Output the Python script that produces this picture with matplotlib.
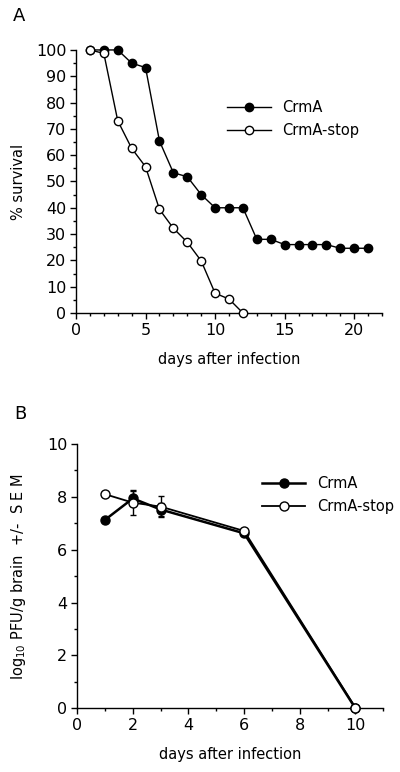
import numpy as np
import matplotlib.pyplot as plt
from matplotlib.ticker import MultipleLocator

# panel A: survival
daysA = [1, 2, 3, 4, 5, 6, 7, 8, 9, 10, 11, 12, 13, 14, 15, 16, 17, 18, 19, 20, 21]
crmaA = [100, 100, 100, 95, 93.3, 65.4, 53.3, 51.8, 45, 40, 40, 40, 28, 28, 26, 26, 26, 26, 24.6, 24.6, 24.6]
daysA_stop = [1, 2, 3, 4, 5, 6, 7, 8, 9, 10, 11, 12]
stopA = [100, 98.7, 73.1, 62.6, 55.6, 39.4, 32.2, 26.9, 19.8, 7.5, 5.3, 0]

# panel B: virus titre
daysB = [1, 2, 3, 6, 10]
crmaB = [7.13, 7.94, 7.52, 6.62, 0]
crmaB_err = [0, 0.3, 0.25, 0, 0]
stopB = [8.1, 7.78, 7.63, 6.71, 0.03]
stopB_err = [0, 0.45, 0.4, 0, 0]

plt.rcParams['font.family'] = 'DejaVu Sans'
plt.rcParams['font.size'] = 10.5

fig = plt.figure(figsize=(4, 7.72), dpi=100)

def style(ax):
    for s in ["top", "right"]:
        ax.spines[s].set_visible(False)
    ax.spines["left"].set_linewidth(1)
    ax.spines["bottom"].set_linewidth(1)
    ax.tick_params(which="major", length=4, width=1, direction="out", labelsize=11.5, pad=3)
    ax.tick_params(which="minor", length=2.5, width=1, direction="out")

# ---- A ----
ax = fig.add_axes([0.19, 0.5946, 0.765, 0.3407])
style(ax)
ax.plot(daysA, crmaA, "o-", color="black", mfc="black", mec="black", ms=6, lw=1,
        label="CrmA", zorder=3, clip_on=False)
ax.plot(daysA_stop, stopA, "o-", color="black", mfc="white", mec="black", ms=6, mew=1, lw=1,
        label="CrmA-stop", zorder=4, clip_on=False)
ax.set_xlim(0, 22)
ax.set_ylim(0, 100)
ax.xaxis.set_major_locator(MultipleLocator(5))
ax.xaxis.set_minor_locator(MultipleLocator(1))
ax.yaxis.set_major_locator(MultipleLocator(10))
ax.yaxis.set_minor_locator(MultipleLocator(5))
ax.set_xlabel("days after infection", fontsize=10.5, labelpad=10)
ax.set_ylabel("% survival", fontsize=10.5, labelpad=7)
ax.legend(loc="upper left", bbox_to_anchor=(0.45, 0.86), frameon=False, fontsize=10.5,
          handlelength=3, handletextpad=0.8, labelspacing=0.55)
fig.text(0.033, 0.979, "A", fontsize=13, va="center", ha="left")

# ---- B ----
ax2 = fig.add_axes([0.193, 0.0825, 0.765, 0.3424])
style(ax2)
ax2.errorbar(daysB, crmaB, yerr=crmaB_err, fmt="o-", color="black", mfc="black", mec="black",
             ms=6.5, lw=1.8, capsize=2.5, elinewidth=1, label="CrmA", zorder=3, clip_on=False)
ax2.errorbar(daysB, stopB, yerr=stopB_err, fmt="o-", color="black", mfc="white", mec="black",
             ms=6.5, mew=1, lw=1.3, capsize=2.5, elinewidth=1, label="CrmA-stop", zorder=4, clip_on=False)
ax2.set_xlim(0, 11)
ax2.set_ylim(0, 10)
ax2.xaxis.set_major_locator(MultipleLocator(2))
ax2.xaxis.set_minor_locator(MultipleLocator(1))
ax2.yaxis.set_major_locator(MultipleLocator(2))
ax2.yaxis.set_minor_locator(MultipleLocator(1))
ax2.set_xlabel("days after infection", fontsize=10.5, labelpad=10)
ax2.set_ylabel("log$_{10}$ PFU/g brain  +/-  S E M", fontsize=10.5, labelpad=14)
h, l = ax2.get_legend_handles_labels()
h = [x[0] for x in h]
ax2.legend(h, l, loc="upper left", bbox_to_anchor=(0.56, 0.93), frameon=False, fontsize=10.5,
           handlelength=3, handletextpad=0.8, labelspacing=0.55)
fig.text(0.035, 0.4637, "B", fontsize=13, va="center", ha="left")

plt.savefig("out.png", dpi=100)
